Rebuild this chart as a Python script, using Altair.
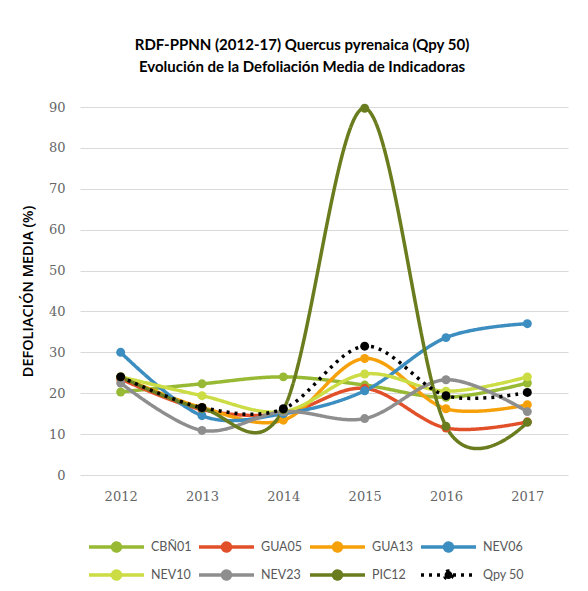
import altair as alt
import pandas as pd

years = ["2012", "2013", "2014", "2015", "2016", "2017"]
series = ["CBÑ01", "GUA05", "GUA13", "NEV06", "NEV10", "NEV23", "PIC12", "Qpy 50"]
cbn01 = [20.3, 22.3, 24.0, 22.0, 19.0, 22.5]
gua05 = [23.5, 16.0, 15.0, 21.2, 11.5, 13.0]
gua13 = [24.0, 16.5, 13.4, 28.5, 16.2, 17.2]
nev06 = [30.0, 14.5, 15.0, 20.6, 33.6, 37.0]
nev10 = [24.0, 19.4, 15.5, 24.7, 20.5, 24.0]
nev23 = [22.5, 10.9, 15.5, 13.8, 23.3, 15.5]
pic12 = [24.0, 16.3, 16.0, 89.7, 11.9, 12.9]
qpy50 = [24.0, 16.5, 16.2, 31.5, 19.4, 20.2]
colors = ["#97B933", "#E2502A", "#F7A10A", "#3C8DC0", "#CCDC44", "#8E8E8E", "#6A7D1E", "#000000"]
y_ticks = [0, 10, 20, 30, 40, 50, 60, 70, 80, 90]

values = [cbn01, gua05, gua13, nev06, nev10, nev23, pic12, qpy50]
rows = []
for s, vals in zip(series, values):
    for yr, v in zip(years, vals):
        rows.append({"year": yr, "series": s, "value": v})
df = pd.DataFrame(rows)

sym_path = "M-1,0L4,0M1.86,0A0.36,0.36,0,1,1,1.14,0A0.36,0.36,0,1,1,1.86,0Z"

color_scale = alt.Scale(domain=series, range=colors)
dash_scale = alt.Scale(domain=series, range=[[1, 0]] * 7 + [[3, 5]])

legend = alt.Legend(
    title=None, orient="none", legendX=7, legendY=427, columns=4,
    direction="horizontal",
    symbolType=sym_path, symbolSize=484, symbolStrokeWidth=3.5,
    labelOffset=38, labelFont="Lato", labelFontSize=12.5, labelColor="#595959",
    columnPadding=0, rowPadding=4,
)

x = alt.X("year:N", sort=years, title=None,
          axis=alt.Axis(labelAngle=0, grid=False, domain=False, ticks=False,
                        labelPadding=15, labelFont="DejaVu Serif", labelFontSize=13,
                        labelColor="#666666"))
y = alt.Y("value:Q", title="DEFOLIACIÓN MEDIA (%)",
          scale=alt.Scale(domain=[0, 90], nice=False),
          axis=alt.Axis(values=y_ticks, domain=False, ticks=False, labelPadding=15,
                        labelFont="DejaVu Serif", labelFontSize=13, labelColor="#666666",
                        titleFont="Open Sans", titleFontSize=14.5, titleFontWeight=600,
                        titleColor="#000000", titlePadding=13,
                        gridColor="#D9D9D9"))

lines = alt.Chart(df).mark_line(interpolate="cardinal", strokeWidth=3.5).encode(
    x=x, y=y,
    color=alt.Color("series:N", scale=color_scale, legend=legend),
    strokeDash=alt.StrokeDash("series:N", scale=dash_scale, legend=legend),
    order=alt.Order("year:N"),
)
points = alt.Chart(df).mark_point(filled=True, size=80, opacity=1).encode(
    x=x, y=y,
    color=alt.Color("series:N", scale=color_scale, legend=legend),
)

chart = alt.layer(lines, points).properties(
    width=488, height=368,
    title=alt.Title(
        ["RDF-PPNN (2012-17) Quercus pyrenaica (Qpy 50)",
         "Evolución de la Defoliación Media de Indicadoras"],
        font="Lato", fontSize=15, fontWeight="bold", color="#000000",
        anchor="middle", dx=-22, offset=26, lineHeight=22,
    ),
    autosize=alt.AutoSizeParams(type="none"),
    padding={"left": 72, "top": 99, "right": 4, "bottom": 115},
).configure_view(stroke=None)

chart.save("out.html", embed_options={"renderer": "svg", "actions": False})
